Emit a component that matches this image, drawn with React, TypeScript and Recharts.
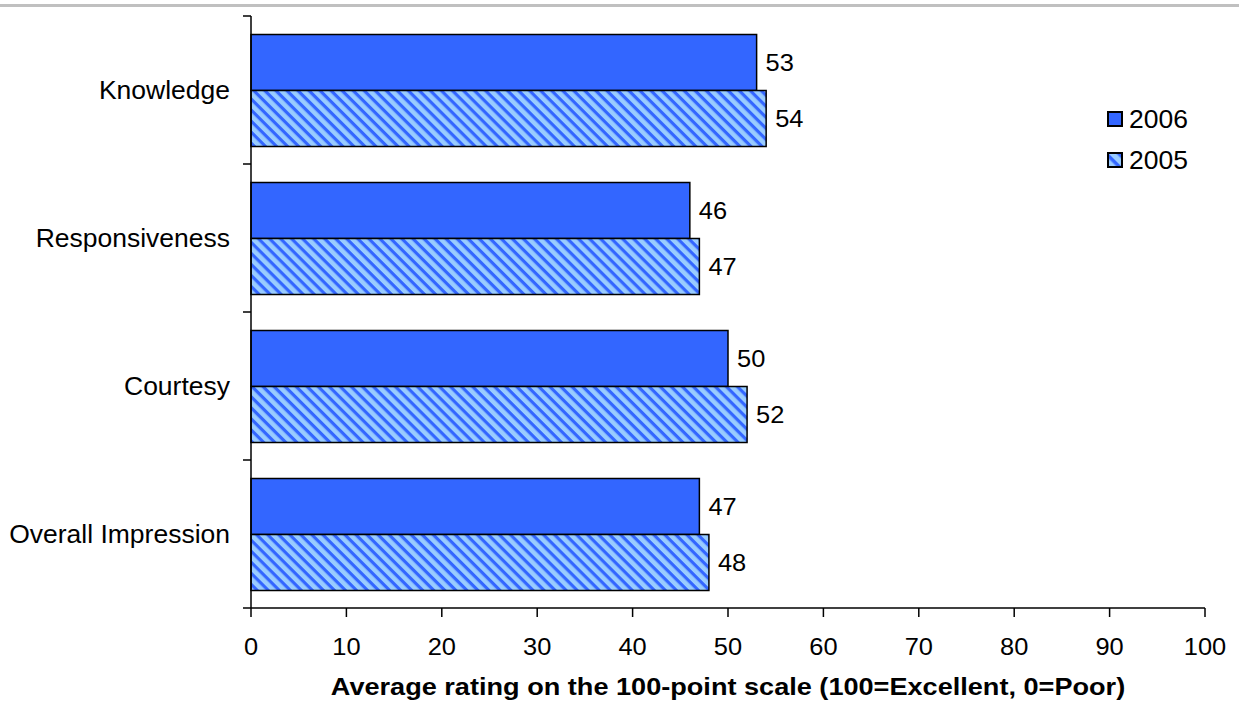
import React from "react";
import { BarChart, Bar, XAxis, YAxis, LabelList } from "recharts";

const categories = ["Knowledge", "Responsiveness", "Courtesy", "Overall Impression"];
const values2006 = [53, 46, 50, 47];
const values2005 = [54, 47, 52, 48];
const xTicks = [0, 10, 20, 30, 40, 50, 60, 70, 80, 90, 100];
const seriesNames = ["2006", "2005"];
const xLabel = "Average rating on the 100-point scale (100=Excellent, 0=Poor)";

const data = categories.map((c, i) => ({ name: c, v2006: values2006[i], v2005: values2005[i] }));

const W = 1239;
const H = 706;
const M = { top: 16, right: 34, left: 0, bottom: 0 };
const YW = 251;
const XH = 98;
const plotH = H - M.top - M.bottom - XH;
const band = plotH / categories.length;
const FONT = "Liberation Sans, Arial, sans-serif";
const FS = 24;
const SX = 1.06;

const SText = ({ x, y, anchor, sx, size, bold, children }: any) => (
  <g transform={`translate(${x},${y}) scale(${sx},1)`}>
    <text
      x={0}
      y={0}
      textAnchor={anchor}
      fontSize={size}
      fontWeight={bold ? "bold" : "normal"}
      fontFamily={FONT}
      fill="#000"
    >
      {children}
    </text>
  </g>
);

const CatTick = (props: any) => {
  const { y, payload, index } = props;
  const ax = YW;
  const last = index === categories.length - 1;
  return (
    <g>
      <line x1={ax - 8} x2={ax} y1={y - band / 2} y2={y - band / 2} stroke="#000" strokeWidth={1.5} />
      {last && <line x1={ax - 8} x2={ax} y1={y + band / 2} y2={y + band / 2} stroke="#000" strokeWidth={1.5} />}
      <SText x={ax - 21} y={y + 9} anchor="end" sx={SX} size={25}>
        {payload.value}
      </SText>
    </g>
  );
};

const NumTick = (props: any) => {
  const { x, payload } = props;
  return (
    <SText x={x} y={655} anchor="middle" sx={SX} size={FS}>
      {payload.value}
    </SText>
  );
};

const ValueLabel = (props: any) => {
  const { x, y, width, height, value } = props;
  return (
    <SText x={x + width + 9} y={y + height / 2 + 8.5} anchor="start" sx={SX} size={FS}>
      {value}
    </SText>
  );
};

const AxisTitle = (props: any) => {
  const vb = props.viewBox || {};
  const cx = (vb.x || 0) + (vb.width || 0) / 2;
  return (
    <SText x={cx} y={695} anchor="middle" sx={1.13} size={24} bold>
      {xLabel}
    </SText>
  );
};

export default function App() {
  return (
    <div style={{ position: "absolute", left: 0, top: 0, width: W, height: H, background: "#fff" }}>
      <div style={{ position: "absolute", left: 0, top: 4, width: W, height: 3, background: "#c0c0c0" }} />
      <BarChart width={W} height={H} data={data} layout="vertical" margin={M} barGap={0} barCategoryGap="12.5%">
        <defs>
          <pattern id="hatch" patternUnits="userSpaceOnUse" width={7.8} height={7.8} patternTransform="rotate(45)">
            <rect x={0} y={0} width={7.8} height={7.8} fill="#99ccff" />
            <rect x={0} y={0} width={7.8} height={3.2} fill="#3366ff" />
          </pattern>
          <pattern id="hatchLegend" patternUnits="userSpaceOnUse" width={9} height={9} patternTransform="rotate(45)">
            <rect x={0} y={0} width={9} height={9} fill="#99ccff" />
            <rect x={0} y={0} width={9} height={3.5} fill="#3366ff" />
          </pattern>
        </defs>
        <XAxis
          type="number"
          domain={[0, 100]}
          ticks={xTicks}
          interval={0}
          height={XH}
          axisLine={{ stroke: "#000", strokeWidth: 1.5 }}
          tickLine={{ stroke: "#000", strokeWidth: 1.5 }}
          tickSize={9}
          tick={<NumTick />}
          label={<AxisTitle />}
        />
        <YAxis
          type="category"
          dataKey="name"
          width={YW}
          axisLine={{ stroke: "#000", strokeWidth: 1.5 }}
          tickLine={false}
          tick={<CatTick />}
          interval={0}
        />
        <Bar dataKey="v2006" name="2006" fill="#3366ff" stroke="#000" strokeWidth={1.5} isAnimationActive={false}>
          <LabelList dataKey="v2006" content={<ValueLabel />} />
        </Bar>
        <Bar dataKey="v2005" name="2005" fill="url(#hatch)" stroke="#000" strokeWidth={1.5} isAnimationActive={false}>
          <LabelList dataKey="v2005" content={<ValueLabel />} />
        </Bar>
      </BarChart>
      <div style={{ position: "absolute", left: 1107, top: 104, fontFamily: FONT, fontSize: 25, color: "#000" }}>
        {seriesNames.map((n, i) => (
          <div key={n} style={{ display: "flex", alignItems: "center", height: 30, marginBottom: 11 }}>
            <svg width={16} height={16} style={{ marginRight: 6 }}>
              <rect
                x={1}
                y={1}
                width={14}
                height={14}
                fill={i === 0 ? "#3366ff" : "url(#hatchLegend)"}
                stroke="#000"
                strokeWidth={2}
              />
            </svg>
            <span style={{ display: "inline-block", transform: `scaleX(${SX})`, transformOrigin: "left center" }}>{n}</span>
          </div>
        ))}
      </div>
    </div>
  );
}
